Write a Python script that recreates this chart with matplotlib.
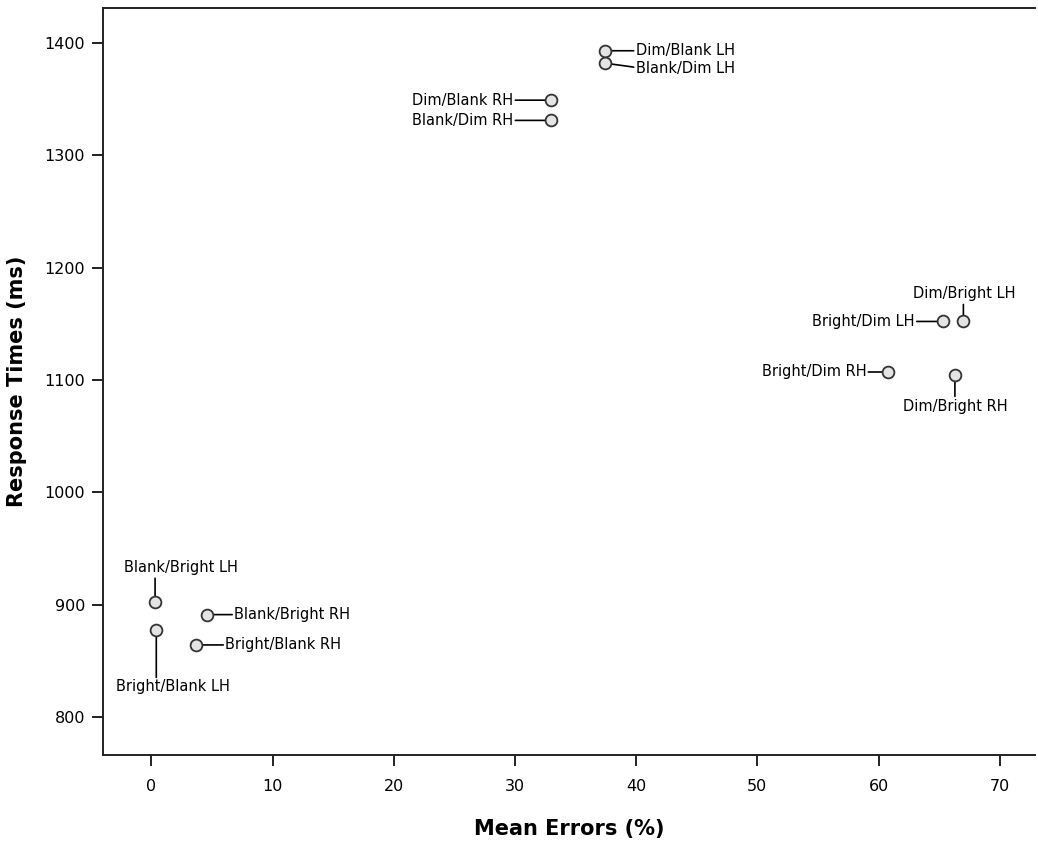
import matplotlib
matplotlib.use('Agg')
import matplotlib.pyplot as plt

#--- data
conditions = ['Dim/Blank LH', 'Blank/Dim LH', 'Dim/Blank RH', 'Blank/Dim RH',
              'Dim/Bright LH', 'Bright/Dim LH', 'Bright/Dim RH', 'Dim/Bright RH',
              'Blank/Bright LH', 'Bright/Blank LH', 'Blank/Bright RH', 'Bright/Blank RH']
mean_errors = [37.4, 37.4, 33.0, 33.0,
               67.0, 65.3, 60.8, 66.3,
               0.3, 0.4, 4.6, 3.7]
response_times = [1393, 1382, 1349, 1331,
                  1152, 1152, 1107, 1104,
                  902, 877, 891, 864]

x_ticks = [0, 10, 20, 30, 40, 50, 60, 70]
y_ticks = [800, 900, 1000, 1100, 1200, 1300, 1400]

#--- label placement: (line end dx, dy, text dx, dy, ha) in pixels
label_pos = {
    'Dim/Blank LH':    (29, 0, 31, 0, 'left'),
    'Blank/Dim LH':    (29, -4, 31, -5, 'left'),
    'Dim/Blank RH':    (-36, 0, -38, 0, 'right'),
    'Blank/Dim RH':    (-36, 0, -38, 0, 'right'),
    'Dim/Bright LH':   (0, 17, 1, 28, 'center'),
    'Bright/Dim LH':   (-26, 0, -28, 0, 'right'),
    'Bright/Dim RH':   (-20, 0, -22, 0, 'right'),
    'Dim/Bright RH':   (0, -21, 0, -31, 'center'),
    'Blank/Bright LH': (0, 24, 26, 35, 'center'),
    'Bright/Blank LH': (0, -47, 17, -56, 'center'),
    'Blank/Bright RH': (25, 0, 27, 0, 'left'),
    'Bright/Blank RH': (27, 0, 29, 0, 'left'),
}

fig = plt.figure(figsize=(10.38, 8.49), dpi=100)
ax = fig.add_axes([0.0992, 0.1107, 0.8978, 0.8798])

ax.scatter(mean_errors, response_times, s=72, facecolor='#e4e4e4',
           edgecolor='#333333', linewidth=1.3, zorder=3)

for name, xv, yv in zip(conditions, mean_errors, response_times):
    lx, ly, tx, ty, ha = label_pos[name]
    ax.annotate('', xy=(xv, yv), xytext=(lx, ly), textcoords='offset pixels',
                arrowprops=dict(arrowstyle='-', color='black', lw=1.2,
                                shrinkA=0, shrinkB=4.5), zorder=2)
    ax.annotate(name, xy=(xv, yv), xytext=(tx, ty), textcoords='offset pixels',
                ha=ha, va='center', fontsize=10.5,
                family=['Liberation Sans Narrow', 'DejaVu Sans'])

ax.set_xlim(-4, 72.9)
ax.set_ylim(766, 1431)
ax.set_xticks(x_ticks)
ax.set_yticks(y_ticks)

ax.spines['right'].set_visible(False)
for s in ['left', 'top', 'bottom']:
    ax.spines[s].set_color('#222222')
    ax.spines[s].set_linewidth(1.4)

ax.tick_params(axis='both', direction='out', length=8, width=1.4,
               color='#222222', labelsize=11.5, pad=5)
ax.tick_params(axis='x', pad=9)
for lab in ax.get_xticklabels() + ax.get_yticklabels():
    lab.set_family(['Liberation Sans Narrow', 'DejaVu Sans'])

ax.set_xlabel('Mean Errors (%)', fontsize=15, fontweight='bold',
              family='DejaVu Sans', labelpad=18)
ax.set_ylabel('Response Times (ms)', fontsize=15, fontweight='bold',
              family='DejaVu Sans', labelpad=12)

fig.savefig('out.png', dpi=100)
